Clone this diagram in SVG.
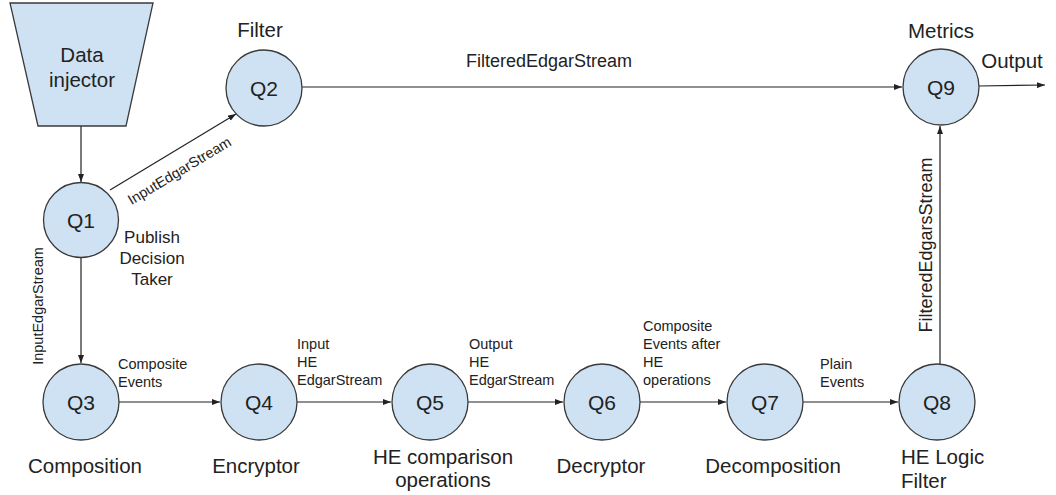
<svg xmlns="http://www.w3.org/2000/svg" width="1056" height="495" viewBox="0 0 1056 495">
<defs>
<marker id="arr" markerWidth="8" markerHeight="6" refX="8" refY="3" orient="auto" markerUnits="userSpaceOnUse">
<path d="M0,0 L8,3 L0,6 Z" fill="#222"/>
</marker>
<style>
.node{fill:#cfe2f3;stroke:#3a3a3a;stroke-width:1.3}
.q{font-family:"Liberation Sans",Arial,sans-serif;font-size:21px;fill:#222;text-anchor:middle}
.cap{font-family:"Liberation Sans",Arial,sans-serif;font-size:20.5px;fill:#222;text-anchor:middle}
.capl{font-family:"Liberation Sans",Arial,sans-serif;font-size:20.5px;fill:#222;text-anchor:start}
.el{font-family:"Liberation Sans",Arial,sans-serif;font-size:14.5px;fill:#222}
.big{font-family:"Liberation Sans",Arial,sans-serif;font-size:18px;fill:#222;text-anchor:middle}
.mid{font-family:"Liberation Sans",Arial,sans-serif;font-size:14.5px;fill:#222;text-anchor:middle}
.pub{font-family:"Liberation Sans",Arial,sans-serif;font-size:17px;fill:#222;text-anchor:middle}
.edge{stroke:#222;stroke-width:1.2;fill:none;marker-end:url(#arr)}
</style>
</defs>
<rect width="1056" height="495" fill="#fff"/>

<g id="connectors">
<line class="edge" x1="81" y1="126" x2="81" y2="182"/>
<line class="edge" x1="110" y1="190" x2="236" y2="114"/>
<line class="edge" x1="81" y1="258" x2="81" y2="363"/>
<line class="edge" x1="302" y1="87" x2="902" y2="87"/>
<line class="edge" x1="979" y1="86" x2="1045" y2="85"/>
<line class="edge" x1="119" y1="402" x2="220" y2="402"/>
<line class="edge" x1="297" y1="402" x2="391" y2="402"/>
<line class="edge" x1="468" y1="402" x2="563" y2="402"/>
<line class="edge" x1="640" y1="402" x2="726" y2="402"/>
<line class="edge" x1="803" y1="402" x2="898" y2="402"/>
<line class="edge" x1="940" y1="364" x2="940" y2="126"/>
<text class="big" x="549" y="67">FilteredEdgarStream</text>
<text class="big" transform="translate(932,245) rotate(-90)">FilteredEdgarsStream</text>
<text class="mid" transform="translate(43,306) rotate(-90)">InputEdgarStream</text>
<text class="mid" transform="translate(182,175) rotate(-31)">InputEdgarStream</text>
<text class="el" x="118" y="369">Composite</text>
<text class="el" x="118" y="387">Events</text>
<text class="el" x="297" y="349">Input</text>
<text class="el" x="297" y="367">HE</text>
<text class="el" x="297" y="385">EdgarStream</text>
<text class="el" x="469" y="349">Output</text>
<text class="el" x="469" y="367">HE</text>
<text class="el" x="469" y="385">EdgarStream</text>
<text class="el" x="643" y="331">Composite</text>
<text class="el" x="643" y="349">Events after</text>
<text class="el" x="643" y="367">HE</text>
<text class="el" x="643" y="385">operations</text>
<text class="el" x="820" y="369">Plain</text>
<text class="el" x="820" y="387">Events</text>
<text class="cap" x="1012" y="68">Output</text>
</g>

<g id="data-injector">
<polygon class="node" points="10,3 153,3 126,126 38,126"/>
<text class="cap" x="82" y="62">Data</text>
<text class="cap" x="82" y="87">injector</text>
</g>

<g id="q1">
<circle class="node" cx="81" cy="220" r="37.5"/>
<text class="q" x="81" y="228">Q1</text>
<text class="pub" x="152" y="243">Publish</text>
<text class="pub" x="152" y="264">Decision</text>
<text class="pub" x="152" y="285">Taker</text>
</g>

<g id="q2">
<circle class="node" cx="264" cy="88" r="38"/>
<text class="q" x="264" y="96">Q2</text>
<text class="cap" x="260" y="37">Filter</text>
</g>

<g id="q9">
<circle class="node" cx="941" cy="87" r="38"/>
<text class="q" x="941" y="95">Q9</text>
<text class="cap" x="941" y="38">Metrics</text>
</g>

<g id="q3">
<circle class="node" cx="81" cy="402" r="38"/>
<text class="q" x="81" y="410">Q3</text>
<text class="cap" x="85" y="473">Composition</text>
</g>

<g id="q4">
<circle class="node" cx="259" cy="402" r="38"/>
<text class="q" x="259" y="410">Q4</text>
<text class="cap" x="256" y="473">Encryptor</text>
</g>

<g id="q5">
<circle class="node" cx="430" cy="402" r="38"/>
<text class="q" x="430" y="410">Q5</text>
<text class="cap" x="443" y="464">HE comparison</text>
<text class="cap" x="443" y="487">operations</text>
</g>

<g id="q6">
<circle class="node" cx="602" cy="402" r="38"/>
<text class="q" x="602" y="410">Q6</text>
<text class="cap" x="601" y="473">Decryptor</text>
</g>

<g id="q7">
<circle class="node" cx="765" cy="402" r="38"/>
<text class="q" x="765" y="410">Q7</text>
<text class="cap" x="773" y="473">Decomposition</text>
</g>

<g id="q8">
<circle class="node" cx="937" cy="402" r="38"/>
<text class="q" x="937" y="410">Q8</text>
<text class="capl" x="901" y="464">HE Logic</text>
<text class="capl" x="901" y="488">Filter</text>
</g>
</svg>
